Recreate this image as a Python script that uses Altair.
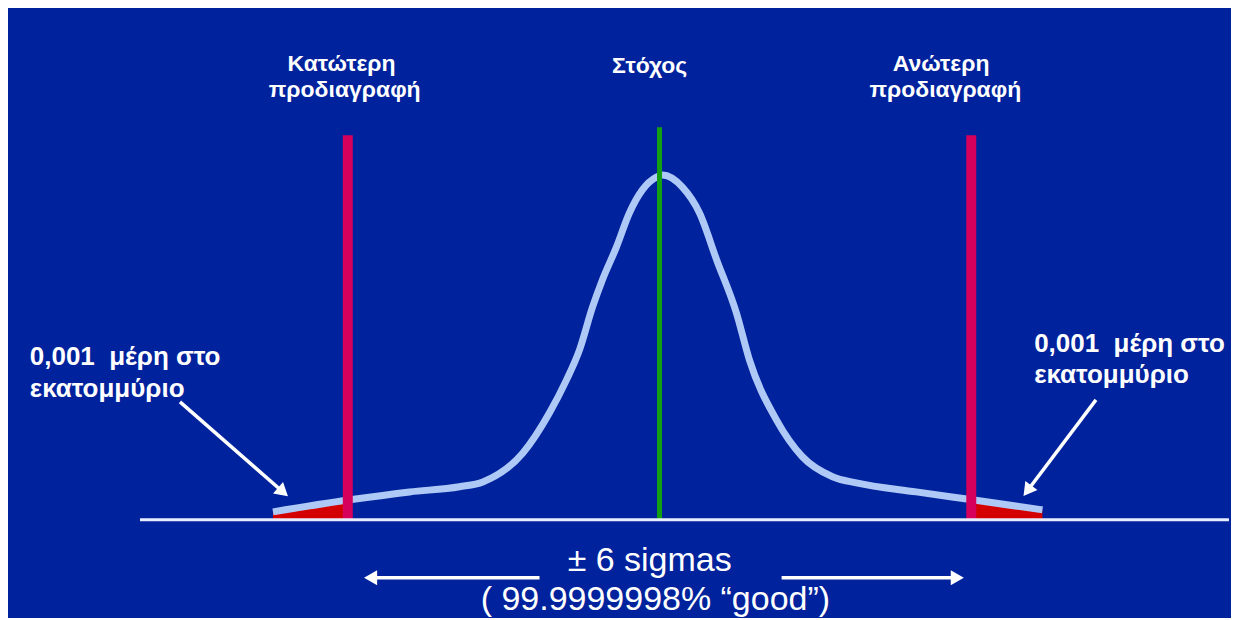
import math
import altair as alt
import pandas as pd

# ---------------- data (x in sigma units, y = relative curve height) ----------------
curve_x = [-7.44, -5.96, -4.81, -3.85, -3.40, -2.63, -2.12, -1.79, -1.54, -1.29,
           -1.10, -0.83, -0.58, -0.33, -0.06, 0.06, 0.44, 0.77, 1.10, 1.48,
           1.73, 2.25, 2.75, 3.33, 3.79, 4.94, 6.02, 7.37]
curve_y = [0.023, 0.058, 0.081, 0.096, 0.110, 0.194, 0.310, 0.406, 0.493, 0.617,
           0.696, 0.791, 0.890, 0.957, 0.994, 1.000, 0.965, 0.890, 0.754, 0.600,
           0.464, 0.290, 0.183, 0.125, 0.107, 0.081, 0.058, 0.029]

tail_left_x = [-7.44, -6.0]
tail_left_y = [0.023, 0.057]
tail_right_x = [6.0, 7.37]
tail_right_y = [0.058, 0.029]

limit_names = ["LSL", "Target", "USL"]
limit_x = [-6.0, 0.0, 6.0]
limit_top = [1.116, 1.139, 1.116]

baseline_x = [-10.0, 10.96]

header_text = ["Κατώτερη", "προδιαγραφή", "Στόχος", "Ανώτερη", "προδιαγραφή"]
header_x = [-6.12, -6.06, -0.19, 5.42, 5.50]
header_y = [1.301, 1.226, 1.296, 1.301, 1.226]

note_text = ["0,001\u00a0\u00a0μέρη στο", "εκατομμύριο", "0,001\u00a0\u00a0μέρη στο", "εκατομμύριο"]
note_x = [-12.12, -12.12, 7.21, 7.21]
note_y = [0.449, 0.357, 0.487, 0.397]

sigma_text = ["± 6 sigmas", "( 99.9999998% “good”)"]
sigma_x = [-0.19, -0.08]
sigma_y = [-0.149, -0.261]

arrow_id = ["note_left", "note_right", "span_left", "span_right"]
arrow_x0 = [-9.23, 8.40, -2.31, 2.35]
arrow_y0 = [0.342, 0.348, -0.168, -0.168]
arrow_x1 = [-7.12, 6.98, -5.73, 5.90]
arrow_y1 = [0.064, 0.064, -0.168, -0.168]

# ---------------- layout ----------------
W, H = 1223, 604
X_DOM = [-12.54, 10.98]
Y_DOM = [-0.2667, 1.4841]
BG = "#00229c"
HEAD_SIZE = 230

xs = alt.Scale(domain=X_DOM, nice=False, zero=False)
ys = alt.Scale(domain=Y_DOM, nice=False, zero=False)


def to_px(x, y):
    return ((x - X_DOM[0]) / (X_DOM[1] - X_DOM[0]) * W,
            (Y_DOM[1] - y) / (Y_DOM[1] - Y_DOM[0]) * H)


def to_data(px, py):
    return (X_DOM[0] + px / W * (X_DOM[1] - X_DOM[0]),
            Y_DOM[1] - py / H * (Y_DOM[1] - Y_DOM[0]))


# arrow shafts & heads
r = math.sqrt(HEAD_SIZE) / 2
h = math.tan(math.radians(30)) * r
shaft_rows, head_rows = [], []
for i, aid in enumerate(arrow_id):
    p0 = to_px(arrow_x0[i], arrow_y0[i])
    p1 = to_px(arrow_x1[i], arrow_y1[i])
    dx, dy = p1[0] - p0[0], p1[1] - p0[1]
    L = math.hypot(dx, dy)
    ux, uy = dx / L, dy / L
    cx, cy = p1[0] - ux * 2 * h, p1[1] - uy * 2 * h
    hx, hy = to_data(cx, cy)
    ang = (math.degrees(math.atan2(dx, -dy)) + 360) % 360
    shaft_rows.append({"id": aid, "x": arrow_x0[i], "y": arrow_y0[i], "o": 0})
    shaft_rows.append({"id": aid, "x": hx, "y": hy, "o": 1})
    head_rows.append({"id": aid, "x": hx, "y": hy, "angle": ang})

curve_df = pd.DataFrame({"x": curve_x, "y": curve_y})
tails_df = pd.concat([
    pd.DataFrame({"side": "left", "x": tail_left_x, "y": tail_left_y}),
    pd.DataFrame({"side": "right", "x": tail_right_x, "y": tail_right_y}),
])
limits_df = pd.DataFrame({"name": limit_names, "x": limit_x, "top": limit_top, "y0": 0.0})
base_df = pd.DataFrame({"x": [baseline_x[0]], "x2": [baseline_x[1]], "y": [0.0]})
header_df = pd.DataFrame({"t": header_text, "x": header_x, "y": header_y})
note_df = pd.DataFrame({"t": note_text, "x": note_x, "y": note_y})
sigma_df = pd.DataFrame({"t": sigma_text, "x": sigma_x, "y": sigma_y})
shaft_df = pd.DataFrame(shaft_rows)
head_df = pd.DataFrame(head_rows)

X = lambda f="x": alt.X(f"{f}:Q", scale=xs, axis=None)
Y = lambda f="y": alt.Y(f"{f}:Q", scale=ys, axis=None)

tails = alt.Chart(tails_df).mark_area(color="#d40000", interpolate="linear").encode(
    x=X(), y=Y(), y2=alt.datum(0), detail="side:N")

curve = alt.Chart(curve_df).mark_line(color="#aec9f6", strokeWidth=7,
                                      interpolate="monotone", strokeJoin="round").encode(x=X(), y=Y())

lim_colors = alt.Scale(domain=limit_names, range=["#d6005c", "#12a012", "#d6005c"])
limits_pink = alt.Chart(limits_df[limits_df.name != "Target"]).mark_rule(strokeWidth=10).encode(
    x=X(), y=Y("y0"), y2="top:Q", color=alt.Color("name:N", scale=lim_colors, legend=None))
limits_green = alt.Chart(limits_df[limits_df.name == "Target"]).mark_rule(strokeWidth=5).encode(
    x=X(), y=Y("y0"), y2="top:Q", color=alt.Color("name:N", scale=lim_colors, legend=None))

baseline = alt.Chart(base_df).mark_rule(color="#e8eeff", strokeWidth=3).encode(
    x=X(), x2="x2:Q", y=Y())

shafts = alt.Chart(shaft_df).mark_line(color="white", strokeWidth=3.5).encode(
    x=X(), y=Y(), detail="id:N", order="o:Q")
heads = alt.Chart(head_df).mark_point(shape="triangle-up", filled=True, color="white",
                                      opacity=1, size=HEAD_SIZE).encode(
    x=X(), y=Y(), angle=alt.Angle("angle:Q", scale=None))

headers = alt.Chart(header_df).mark_text(font="Liberation Sans", fontWeight="bold", fontSize=23,
                                         color="white", align="center", baseline="alphabetic").encode(
    x=X(), y=Y(), text="t:N")
notes = alt.Chart(note_df).mark_text(font="Liberation Sans", fontWeight="bold", fontSize=26,
                                     color="white", align="left", baseline="alphabetic").encode(
    x=X(), y=Y(), text="t:N")
sigmas = alt.Chart(sigma_df).mark_text(font="Liberation Sans", fontSize=34,
                                       color="white", align="center", baseline="alphabetic").encode(
    x=X(), y=Y(), text="t:N")

chart = alt.layer(tails, curve, limits_pink, limits_green, baseline, shafts, heads,
                  headers, notes, sigmas).properties(
    width=W, height=H, padding=0, background=BG
).configure_view(stroke=None)

chart.save("out.html", embed_options={"renderer": "svg", "actions": False})
